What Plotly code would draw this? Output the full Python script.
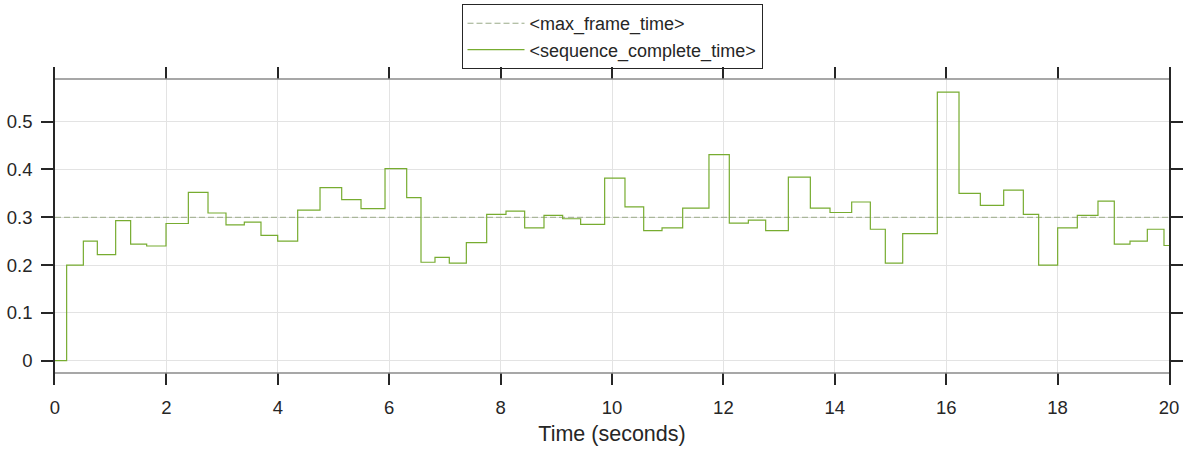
import plotly.graph_objects as go

# step start times (s) and values of <sequence_complete_time>
seq_time = [0, 0.209, 0.509, 0.760, 1.089, 1.358, 1.646, 1.993, 2.394, 2.747,
            3.070, 3.399, 3.698, 3.998, 4.357, 4.758, 5.147, 5.494, 5.925, 6.314,
            6.571, 6.822, 7.079, 7.385, 7.750, 8.097, 8.432, 8.779, 9.114, 9.437,
            9.868, 10.233, 10.569, 10.898, 11.269, 11.741, 12.106, 12.448, 12.759, 13.166,
            13.561, 13.914, 14.303, 14.638, 14.907, 15.219, 15.841, 16.230, 16.613, 17.032,
            17.385, 17.660, 18.001, 18.354, 18.725, 19.018, 19.300, 19.611, 19.910, 20]
seq_value = [0, 0.200, 0.250, 0.222, 0.293, 0.244, 0.240, 0.287, 0.352, 0.309,
             0.284, 0.290, 0.262, 0.250, 0.315, 0.362, 0.337, 0.318, 0.402, 0.341,
             0.206, 0.216, 0.204, 0.247, 0.306, 0.313, 0.278, 0.304, 0.297, 0.285,
             0.382, 0.322, 0.272, 0.278, 0.319, 0.431, 0.288, 0.294, 0.272, 0.384,
             0.319, 0.310, 0.332, 0.275, 0.204, 0.266, 0.562, 0.350, 0.325, 0.357,
             0.306, 0.200, 0.278, 0.304, 0.334, 0.244, 0.250, 0.275, 0.241, 0.241]

max_frame_time_x = [0, 20]
max_frame_time = [0.3, 0.3]

x_ticks = [0, 2, 4, 6, 8, 10, 12, 14, 16, 18, 20]
y_ticks = [0, 0.1, 0.2, 0.3, 0.4, 0.5]

GREEN = "#77AC30"
DASH_COLOR = "#9aaa88"
DARK = "#262626"
FONT = "Liberation Sans, Arial, sans-serif"

fig = go.Figure()
fig.add_trace(go.Scatter(
    x=max_frame_time_x, y=max_frame_time, mode="lines",
    name="<max_frame_time>",
    line=dict(color=DASH_COLOR, width=1, dash="6px,3px"),
    hoverinfo="skip"))
fig.add_trace(go.Scatter(
    x=seq_time, y=seq_value, mode="lines", line_shape="hv",
    name="<sequence_complete_time>",
    line=dict(color=GREEN, width=1.2),
    hoverinfo="skip"))

# grey box lines at top and bottom of the data area
for yp in (0.0377, 0.9623):
    fig.add_shape(type="line", xref="paper", yref="paper", x0=0, x1=1, y0=yp, y1=yp,
                  line=dict(color="#8a8a8a", width=1.5), layer="above")

fig.update_layout(
    width=1188, height=450,
    margin=dict(l=55, r=19, t=67, b=65, autoexpand=False),
    paper_bgcolor="white", plot_bgcolor="white",
    font=dict(family=FONT, color=DARK, size=18.5),
    showlegend=True,
    legend=dict(x=0.5, xanchor="center", y=1.198, yanchor="top",
                bgcolor="rgba(255,255,255,0)", bordercolor=DARK, borderwidth=1,
                font=dict(family=FONT, size=18, color=DARK),
                itemwidth=57, tracegroupgap=0),
    xaxis=dict(range=[0, 20], tickvals=x_ticks, ticks="inside", ticklen=12,
               tickwidth=1.5, tickcolor=DARK, mirror="allticks", showline=False,
               showgrid=True, gridcolor="#e3e3e3", gridwidth=1, zeroline=False,
               automargin=False,
               tickfont=dict(size=18.5, color=DARK), ticklabelstandoff=9,
               title=dict(text="Time (seconds)", font=dict(size=21.5, color=DARK), standoff=9)),
    yaxis=dict(range=[-0.0508, 0.6144], tickvals=y_ticks, ticks="outside", ticklen=12,
               tickwidth=1.5, tickcolor=DARK, showline=True, linecolor=DARK, linewidth=1.5,
               mirror="allticks", showgrid=True, gridcolor="#e3e3e3", gridwidth=1,
               automargin=False,
               zeroline=False, tickfont=dict(size=18.5, color=DARK), ticklabelstandoff=5),
)

fig.write_html("out.html", config={"displayModeBar": False},
               post_script="document.body.style.margin='0';document.body.style.overflow='hidden';")
